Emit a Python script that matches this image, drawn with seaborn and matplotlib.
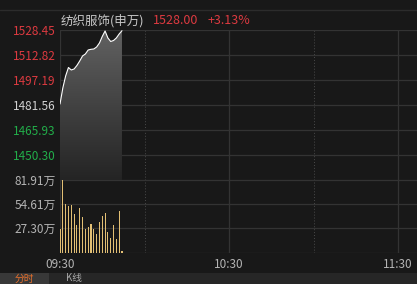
import numpy as np
import pandas as pd
import matplotlib
matplotlib.use("Agg")
import matplotlib.pyplot as plt
import seaborn as sns
from matplotlib.patches import Rectangle
from matplotlib.colors import LinearSegmentedColormap

sns.set_theme(style="dark")
plt.rcParams['font.family'] = ['Noto Sans CJK SC', 'DejaVu Sans']

# ---- data ----
title_name = "纺织服饰(申万)"
last_price_text = "1528.00"
change_text = "+3.13%"
prev_close = 1481.56
minutes = list(range(23))
prices = [1482.19, 1492.19, 1499.70, 1505.01, 1503.45, 1504.07, 1506.26, 1509.08,
          1512.20, 1513.45, 1515.95, 1516.39, 1516.58, 1517.83, 1520.33, 1524.40,
          1527.83, 1523.46, 1521.27, 1521.89, 1523.46, 1525.96, 1528.00]
volumes = [26.15, 81.91, 54.99, 53.07, 53.84, 43.45, 30.76, 49.99, 39.61, 26.92,
           29.23, 31.92, 26.15, 20.38, 34.99, 40.76, 44.61, 23.07, 16.54, 30.76,
           15.77, 46.53, 1.92]
price_ticks = [1434.67, 1450.30, 1465.93, 1481.56, 1497.19, 1512.82, 1528.45]
price_labels = ["", "1450.30", "1465.93", "1481.56", "1497.19", "1512.82", "1528.45"]
vol_ticks = [27.30, 54.61, 81.91]
vol_labels = ["27.30万", "54.61万", "81.91万"]
time_ticks = [0, 60, 120]
time_labels = ["09:30", "10:30", "11:30"]
tab_labels = ["分时", "K线"]

BG = "#181818"
GRID = "#333333"
RED = "#dd3a40"
GREEN = "#22ae4a"
GRAYTXT = "#b4b4b4"

W, H = 417, 284
fig = plt.figure(figsize=(W / 100, H / 100), dpi=100, facecolor=BG)

def fx(px):
    return px / W

def fy(py):
    return 1 - py / H

xmax = (W - 60) / 2.817

ax = fig.add_axes([fx(60), fy(180), 1 - fx(60), (180 - 30) / H])
axv = fig.add_axes([fx(60), fy(252.5), 1 - fx(60), (252.5 - 180) / H])

for a in (ax, axv):
    a.set_facecolor(BG)
    a.set_xlim(0, xmax)
    for s in a.spines.values():
        s.set_visible(False)
    a.tick_params(length=0)
    for t, ls in [(0, "-"), (30, (0, (1, 2))), (60, "-"), (90, (0, (1, 2))), (120, "-")]:
        a.axvline(t, color=GRID if ls == "-" else "#4a4a4a", lw=0.9 if ls == "-" else 0.7,
                  ls=ls, zorder=1)

# ---- price panel ----
ax.set_ylim(price_ticks[0], price_ticks[-1])
for v in price_ticks:
    ax.axhline(v, color=GRID, lw=0.9, zorder=1)

df = pd.DataFrame({"minute": minutes, "price": prices})
poly = ax.fill_between(minutes, prices, price_ticks[0], color="none", lw=0)
grad = np.linspace(0, 1, 256).reshape(-1, 1)
cmap = LinearSegmentedColormap.from_list("g", ["#242424", "#424242", "#626262"])
img = ax.imshow(grad, cmap=cmap, aspect="auto", origin="lower",
                extent=[minutes[0], minutes[-1], price_ticks[0], price_ticks[-1]], zorder=2)
img.set_clip_path(poly.get_paths()[0], transform=ax.transData)
ax.set_xlim(0, xmax)
ax.set_ylim(price_ticks[0], price_ticks[-1])

sns.lineplot(data=df, x="minute", y="price", ax=ax, color="white", lw=0.8, zorder=3)

ax.set_yticks(price_ticks[1:])
ax.set_yticklabels(price_labels[1:], fontsize=8.5)
label_colors = [GREEN, GREEN, "#d2d2d2", RED, RED, RED]
for lab, c in zip(ax.get_yticklabels(), label_colors):
    lab.set_color(c)
ax.tick_params(axis="y", pad=3)
ax.set_xticks([])
ax.set_xlabel("")
ax.set_ylabel("")

# ---- volume panel ----
axv.set_ylim(0, 81.91)
for v in [0] + vol_ticks:
    axv.axhline(v, color=GRID, lw=0.9, zorder=1)
dv = pd.DataFrame({"minute": minutes, "volume": volumes})
sns.barplot(data=dv, x="minute", y="volume", ax=axv, native_scale=True,
            color="#e2bf74", width=0.38, saturation=1, zorder=3, linewidth=0)
axv.set_xlim(0, xmax)
axv.set_ylim(0, 81.91)
axv.set_yticks(vol_ticks)
axv.set_yticklabels(vol_labels, fontsize=8.5, color=GRAYTXT)
axv.tick_params(axis="y", pad=3)
axv.set_xticks(time_ticks)
axv.set_xticklabels(time_labels, fontsize=8.5, color=GRAYTXT)
axv.tick_params(axis="x", pad=4)
axv.set_xlabel("")
axv.set_ylabel("")

# ---- header ----
fig.add_artist(plt.Line2D([0, 1], [fy(10), fy(10)], color="#2c2c2c", lw=1))
fig.text(fx(61), fy(21), title_name, fontsize=9, color="#c8c8c8", va="center", ha="left")
fig.text(fx(153), fy(21), last_price_text, fontsize=9, color=RED, va="center", ha="left")
fig.text(fx(208), fy(21), change_text, fontsize=9, color=RED, va="center", ha="left")

# ---- bottom tab bar ----
fig.add_artist(Rectangle((0, 0), 1, (H - 273) / H, transform=fig.transFigure,
                         facecolor="#262626", edgecolor="none"))
fig.add_artist(Rectangle((0, 0), fx(49), (H - 273) / H, transform=fig.transFigure,
                         facecolor="#383838", edgecolor="none"))
fig.text(fx(24), fy(278.5), tab_labels[0], fontsize=7, color="#e8702c", va="center", ha="center")
fig.text(fx(66), fy(278.5), tab_labels[1], fontsize=7, color="#a8a8a8", va="center", ha="left")

fig.savefig("out.png", dpi=100, facecolor=BG)
